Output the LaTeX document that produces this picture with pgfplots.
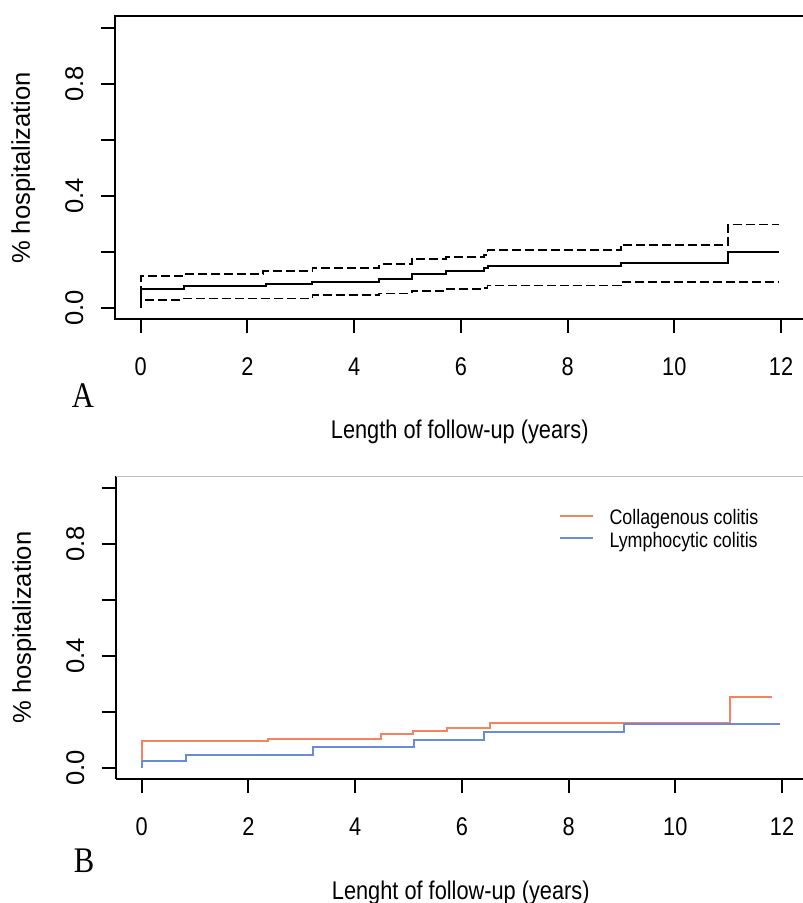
\documentclass[border=0pt]{standalone}
\usepackage{fontspec}
\setmainfont{Liberation Sans}
\newfontfamily\hfont{Liberation Sans}[FakeStretch=0.85]
\newfontfamily\serifh{Liberation Serif}[FakeStretch=0.85]
\usepackage{pgfplots}
\pgfplotsset{compat=1.18}
\definecolor{corange}{HTML}{F4845F}
\definecolor{cblue}{HTML}{6A8CD7}

\pgfplotstableread{
t    est    up     lo
0    0      0      0
0    0.068  0.114  0.029
0.81 0.080  0.121  0.034
2.30 0.080  0.132  0.034
2.35 0.087  0.132  0.034
3.22 0.094  0.144  0.046
4.47 0.104  0.156  0.052
5.08 0.121  0.176  0.062
5.72 0.133  0.182  0.069
6.43 0.141  0.188  0.072
6.50 0.151  0.206  0.080
9.00 0.162  0.226  0.093
11.01 0.200 0.298  0.093
11.96 0.200 0.298  0.093
}\tabA

\pgfplotstableread{
t    cc
0    0
0    0.094
2.37 0.1035
4.49 0.121
5.08 0.133
5.73 0.1435
6.53 0.161
11.03 0.253
11.81 0.253
}\tabCC

\pgfplotstableread{
t    lc
0    0
0    0.0235
0.84 0.0447
3.22 0.074
5.11 0.098
6.42 0.127
9.03 0.155
11.96 0.155
}\tabLC

\pgfplotsset{
  km/.style={
    scale only axis, width=344.75pt, height=151.35pt,
    xmin=-0.48, xmax=12.44, ymin=-0.04, ymax=1.04,
    xtick={0,2,4,6,8,10,12}, xticklabels={0,2,4,6,8,10,12},
    ytick={0,0.2,0.4,0.6,0.8,1.0}, yticklabels={0.0,,0.4,,0.8,},
    xtick pos=bottom, ytick pos=left,
    major tick length=7pt,
    every tick/.style={black, line width=1pt},
    xticklabel style={font=\fontsize{12.8}{15}\hfont, anchor=base, inner sep=0pt, yshift=-21pt},
    yticklabel style={font=\fontsize{12.8}{15}\selectfont, xshift=-9pt, rotate=90, anchor=base, inner sep=0pt},
    xlabel style={at={(axis description cs:0.5,0)}, anchor=base, inner sep=0pt, font=\fontsize{12.8}{15}\hfont},
    ylabel style={at={(axis description cs:-0.1233,0.5)}, rotate=0, anchor=base, inner sep=0pt, font=\fontsize{12.8}{15}\selectfont},
    ylabel={\% hospitalization},
  }
}

\begin{document}
\begin{tikzpicture}
\useasboundingbox (0,0) rectangle (401pt,-451.5pt);

\begin{axis}[km, at={(57.5pt,-159.6pt)}, anchor=south west,
  tick align=outside, axis line style={line width=1pt},
  xlabel={Length of follow-up (years)},
  xlabel style={yshift=-59.4pt}]
\addplot[black, line width=1pt, const plot] table[x=t, y=est] {\tabA};
\addplot[black, line width=0.9pt, const plot, dash pattern=on 4.5pt off 2pt] table[x=t, y=up] {\tabA};
\addplot[black, line width=0.9pt, const plot, dash pattern=on 4.5pt off 2pt] table[x=t, y=lo] {\tabA};
\end{axis}

\node[font=\fontsize{18}{20}\serifh, anchor=base, inner sep=0pt] at (41.5pt,-203.5pt) {A};

\begin{axis}[km, name=b, at={(58pt,-389.5pt)}, anchor=south west,
  axis lines=left, axis line style={-, line width=1pt}, tick align=outside,
  xlabel={Lenght of follow-up (years)},
  xlabel style={yshift=-60pt},
  legend style={at={(axis cs:7.805,0.922)}, anchor=north west, draw=none, fill=none,
    inner sep=0pt, font=\fontsize{10.5}{12}\hfont,
    nodes={inner sep=0pt}, row sep=2.1pt, column sep=8pt},
  legend cell align=left,
  legend image code/.code={\draw[#1, line width=1pt] (0pt,1.5pt) -- (16.5pt,1.5pt);}]
\addplot[corange, line width=1pt, const plot] table[x=t, y=cc] {\tabCC};
\addlegendentry{Collagenous colitis}
\addplot[cblue, line width=1pt, const plot] table[x=t, y=lc] {\tabLC};
\addlegendentry{Lymphocytic colitis}
\end{axis}
\draw[black!25, line width=0.8pt] (b.north west) -- (b.north east);

\node[font=\fontsize{18}{20}\serifh, anchor=base, inner sep=0pt] at (42pt,-436pt) {B};
\end{tikzpicture}
\end{document}
